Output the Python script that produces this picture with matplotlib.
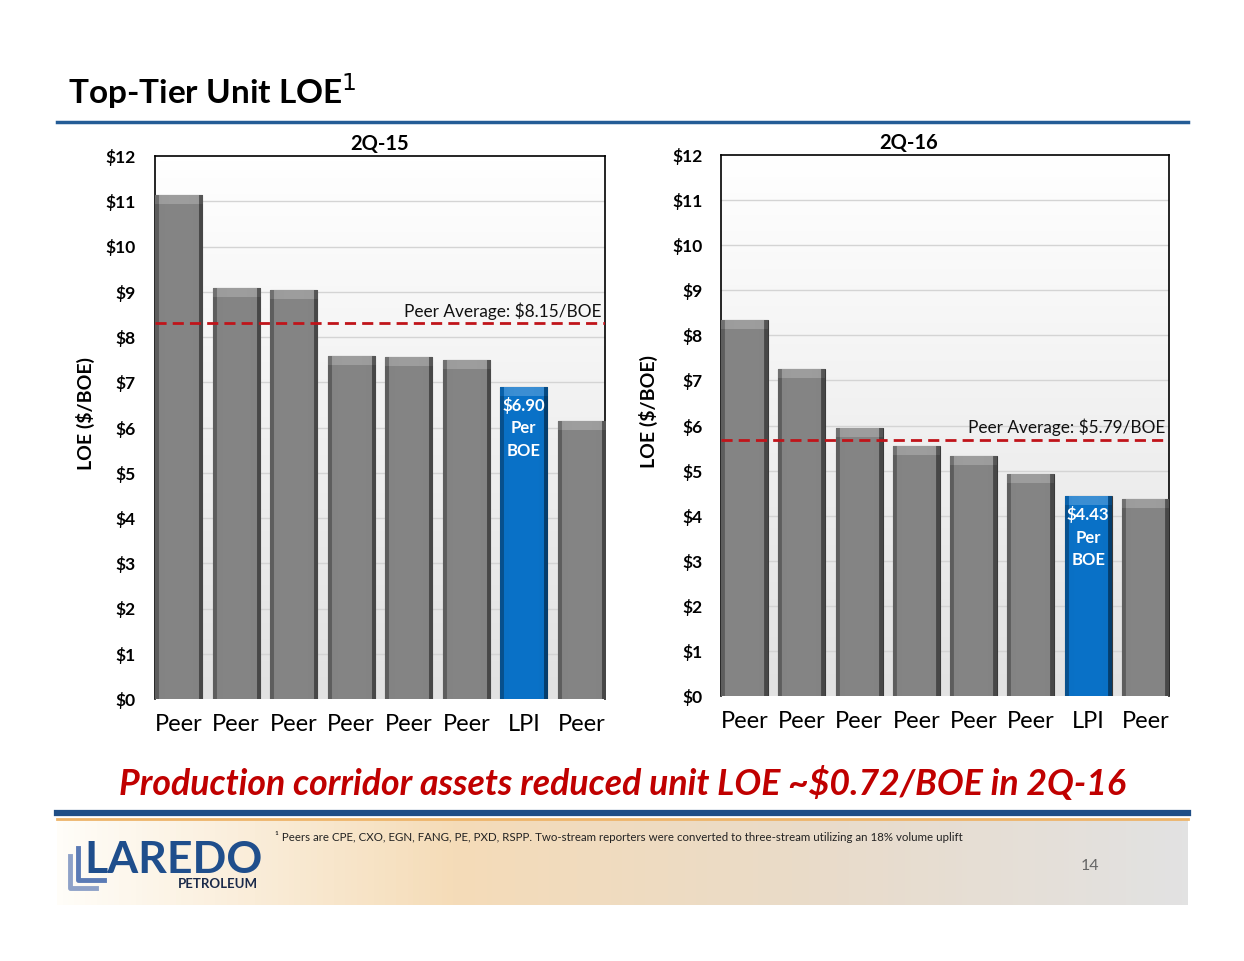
import numpy as np
import matplotlib.pyplot as plt
from matplotlib.colors import LinearSegmentedColormap
from matplotlib.lines import Line2D

plt.rcParams['font.family'] = ['Lato', 'DejaVu Sans']

# =========================================================
# DATOS
# =========================================================
cats = ["Peer", "Peer", "Peer", "Peer", "Peer", "Peer", "LPI", "Peer"]
loe_2q15 = [11.14, 9.08, 9.04, 7.58, 7.56, 7.49, 6.90, 6.14]
loe_2q16 = [8.34, 7.25, 5.94, 5.55, 5.32, 4.92, 4.43, 4.37]
avg_line = {"2Q-15": 8.30, "2Q-16": 5.68}
avg_text = {"2Q-15": "Peer Average: $8.15/BOE", "2Q-16": "Peer Average: $5.79/BOE"}
lpi_text = {"2Q-15": "$6.90\nPer\nBOE", "2Q-16": "$4.43\nPer\nBOE"}
yticks = list(range(0, 13))

GRAY = "#858585"
BLUE = "#0A72C8"
RED = "#C00000"
W, H = 1244, 961


def fx(px):
    return px / W


def fy(py):
    return 1 - py / H


def bevel_bar(ax, patch, base):
    # sombreado tipo bisel sobre cada barra
    x0, y0 = patch.get_x(), patch.get_y()
    w, h = patch.get_width(), patch.get_height()
    n = 60
    u = np.linspace(0, 1, n)
    prof = np.ones(n)
    prof[u < 0.07] = 0.72
    prof[u > 0.92] = 0.55
    prof = prof * (1 - 0.08 * (u - 0.5) ** 2)
    cmap = LinearSegmentedColormap.from_list("b", ["#000000", base, "#ffffff"])
    img = np.tile(prof * 0.5, (2, 1))
    im = ax.imshow(img, extent=(x0, x0 + w, y0, y0 + h), aspect='auto',
                   cmap=cmap, vmin=0, vmax=1, zorder=3, origin='lower')
    im.set_clip_path(patch)
    cap = 0.2
    capimg = np.tile(prof * 0.6, (2, 1))
    im2 = ax.imshow(capimg, extent=(x0, x0 + w, y0 + h - cap, y0 + h), aspect='auto',
                    cmap=cmap, vmin=0, vmax=1, zorder=4, origin='lower')
    im2.set_clip_path(patch)


def draw_panel(rect, vals, key, tick_pad, title_x):
    ax = fig.add_axes(rect)
    x = np.arange(len(vals))
    ax.set_xlim(-0.41, 7.41)
    ax.set_ylim(0, 12)
    bg = LinearSegmentedColormap.from_list("bg", ["#e2e2e2", "#ffffff"])
    ax.imshow(np.linspace(0, 1, 100).reshape(-1, 1), extent=(-0.41, 7.41, 0, 12),
              aspect='auto', cmap=bg, origin='lower', zorder=0)
    for t in yticks[1:-1]:
        ax.axhline(t, color="#d4d4d4", lw=1, zorder=1)
    colors = [BLUE if c == "LPI" else GRAY for c in cats]
    bars = ax.bar(x, vals, width=0.82, color=colors, edgecolor="#3a3a3a",
                  linewidth=0.8, zorder=2)
    for b, c in zip(bars, colors):
        bevel_bar(ax, b, c)
    i_lpi = cats.index("LPI")
    ax.text(i_lpi, vals[i_lpi] - 0.22, lpi_text[key], ha='center', va='top',
            color='white', fontsize=12, fontweight='bold', linespacing=1.5, zorder=6)
    ax.axhline(avg_line[key], color="#C0141A", lw=2, ls=(0, (4, 2.2)), zorder=5)
    ax.text(7.35, avg_line[key] + 0.08, avg_text[key], ha='right', va='bottom',
            fontsize=12.4, color='#111111', zorder=6)
    ax.set_yticks(yticks)
    ax.set_yticklabels([f"${t}" for t in yticks], fontsize=12.5, fontweight='bold')
    ax.set_xticks(x)
    ax.set_xticklabels(cats, fontsize=17)
    ax.tick_params(length=0, axis='y', pad=tick_pad)
    ax.tick_params(length=0, axis='x', pad=11)
    for s in ax.spines.values():
        s.set_color('black')
        s.set_linewidth(1.2)
    ax.spines['bottom'].set_visible(False)
    ax.set_title(key, fontsize=14.5, fontweight='bold', pad=4, x=title_x)
    return ax


fig = plt.figure(figsize=(W / 100, H / 100), dpi=100)

# Título
fig.text(fx(68), fy(104), "Top-Tier Unit LOE$^{1}$", fontsize=24, fontweight='bold',
         va='baseline', ha='left')
fig.add_artist(Line2D([fx(57), fx(1188)], [fy(122), fy(122)], color="#245C96", lw=2.5))

# Paneles
draw_panel([fx(155), fy(699), fx(605) - fx(155), fy(156) - fy(699)], loe_2q15, "2Q-15", 14, 0.5)
draw_panel([fx(721), fy(696), fx(1169) - fx(721), fy(155) - fy(696)], loe_2q16, "2Q-16", 13, 0.418)

fig.text(fx(85), fy(413), "LOE ($/BOE)", rotation=90, ha='center', va='center',
         fontsize=14, fontweight='bold')
fig.text(fx(648), fy(411), "LOE ($/BOE)", rotation=90, ha='center', va='center',
         fontsize=14, fontweight='bold')

# Mensaje en rojo
fig.text(fx(622), fy(783), "Production corridor assets reduced unit LOE ~$0.72/BOE in 2Q-16",
         ha='center', va='center', fontsize=25.7, fontweight='bold', style='italic', color=RED)

# Pie de página
fig.add_artist(Line2D([fx(57), fx(1188)], [fy(813), fy(813)], color="#1F4E86", lw=4.5))
fig.add_artist(Line2D([fx(57), fx(1188)], [fy(818.5), fy(818.5)], color="#EDB46A", lw=2))
fax = fig.add_axes([fx(57), fy(905), fx(1188) - fx(57), fy(820) - fy(905)])
foot = LinearSegmentedColormap.from_list(
    "ft", [(0, "#fffdf8"), (0.35, "#f5dcb8"), (0.65, "#eadbc8"), (1, "#e2e2e2")])
fax.imshow(np.linspace(0, 1, 200).reshape(1, -1), aspect='auto', cmap=foot,
           extent=(0, 1, 0, 1))
fax.set_axis_off()

fig.text(fx(275), fy(837), "¹ Peers are CPE, CXO, EGN, FANG, PE, PXD, RSPP. Two-stream reporters "
         "were converted to three-stream utilizing an 18% volume uplift",
         fontsize=8.3, va='center', ha='left', color='#222222')
fig.text(fx(1090), fy(866), "14", fontsize=11.5, color='#666666', ha='center', va='center')

# Logo
fig.text(fx(84), fy(873), "LAREDO", fontsize=32, color="#1F4E8C", ha='left',
         va='baseline', fontweight='bold')
fig.text(fx(258), fy(888), "PETROLEUM", fontsize=9.5, color="#1B2A4A", ha='right',
         va='baseline', fontweight='bold')
for dx, col in [(0, "#5B7BB5"), (8, "#8FA2C8")]:
    xs = [fx(78 - dx), fx(78 - dx), fx(104 - dx)]
    ys = [fy(848 + dx), fy(880 + dx), fy(880 + dx)]
    fig.add_artist(Line2D(xs, ys, color=col, lw=3.5))

fig.savefig("out.png", dpi=100)
